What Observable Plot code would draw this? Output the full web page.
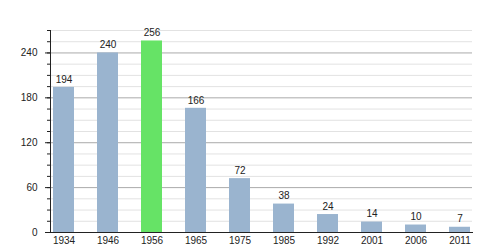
<!DOCTYPE html>
<html>
<head>
<meta charset="utf-8">
<script src="https://cdn.jsdelivr.net/npm/d3@7"></script>
<script src="https://cdn.jsdelivr.net/npm/@observablehq/plot@0.6"></script>
<style>
  html, body { margin: 0; padding: 0; background: #fff; }
  #chart svg { display: block; }
</style>
</head>
<body>
<div id="chart"></div>
<script>
const years = ["1934", "1946", "1956", "1965", "1975", "1985", "1992", "2001", "2006", "2011"];
const values = [194, 240, 256, 166, 72, 38, 24, 14, 10, 7];
const highlightYear = "1956";
const majorTicks = [0, 60, 120, 180, 240];
const minorTicks = [0, 15, 30, 45, 60, 75, 90, 105, 120, 135, 150, 165, 180, 195, 210, 225, 240, 255, 270];

const barColor = "#9ab4cf";
const highlightColor = "#66e366";

const data = years.map((year, i) => ({year, value: values[i]}));
const minorOnly = minorTicks.filter(t => !majorTicks.includes(t) && t !== 0);

const chart = Plot.plot({
  width: 500,
  height: 250,
  marginLeft: 50,
  marginRight: 28,
  marginTop: 30,
  marginBottom: 18,
  style: {fontFamily: "'Liberation Sans', Arial, sans-serif", fontSize: "10px", color: "#222", background: "#fff"},
  x: {type: "band", domain: years, paddingInner: 0.53, paddingOuter: 0, label: null},
  y: {domain: [0, 270], label: null},
  color: {type: "identity"},
  marks: [
    Plot.gridY(minorOnly, {stroke: "#e2e2e2", strokeOpacity: 1}),
    Plot.gridY(majorTicks.filter(t => t > 0), {stroke: "#aaaaaa", strokeOpacity: 1}),
    Plot.barY(data, {x: "year", y: "value", fill: d => d.year === highlightYear ? highlightColor : barColor}),
    Plot.text(data, {x: "year", y: "value", text: d => String(d.value), dy: -8, fontSize: 10, fill: "#222"}),
    Plot.axisY(minorTicks, {tickSize: 3, tickFormat: () => "", stroke: "#222"}),
    Plot.axisY(majorTicks, {tickSize: 5, tickPadding: 8, stroke: "#222", fill: "#222", fontSize: 10}),
    Plot.axisX({tickSize: 0, tickPadding: 4, fill: "#222", fontSize: 10}),
    Plot.frame({anchor: "left", stroke: "#222"}),
    Plot.frame({anchor: "bottom", stroke: "#222"})
  ]
});
document.getElementById("chart").append(chart);
</script>
</body>
</html>
